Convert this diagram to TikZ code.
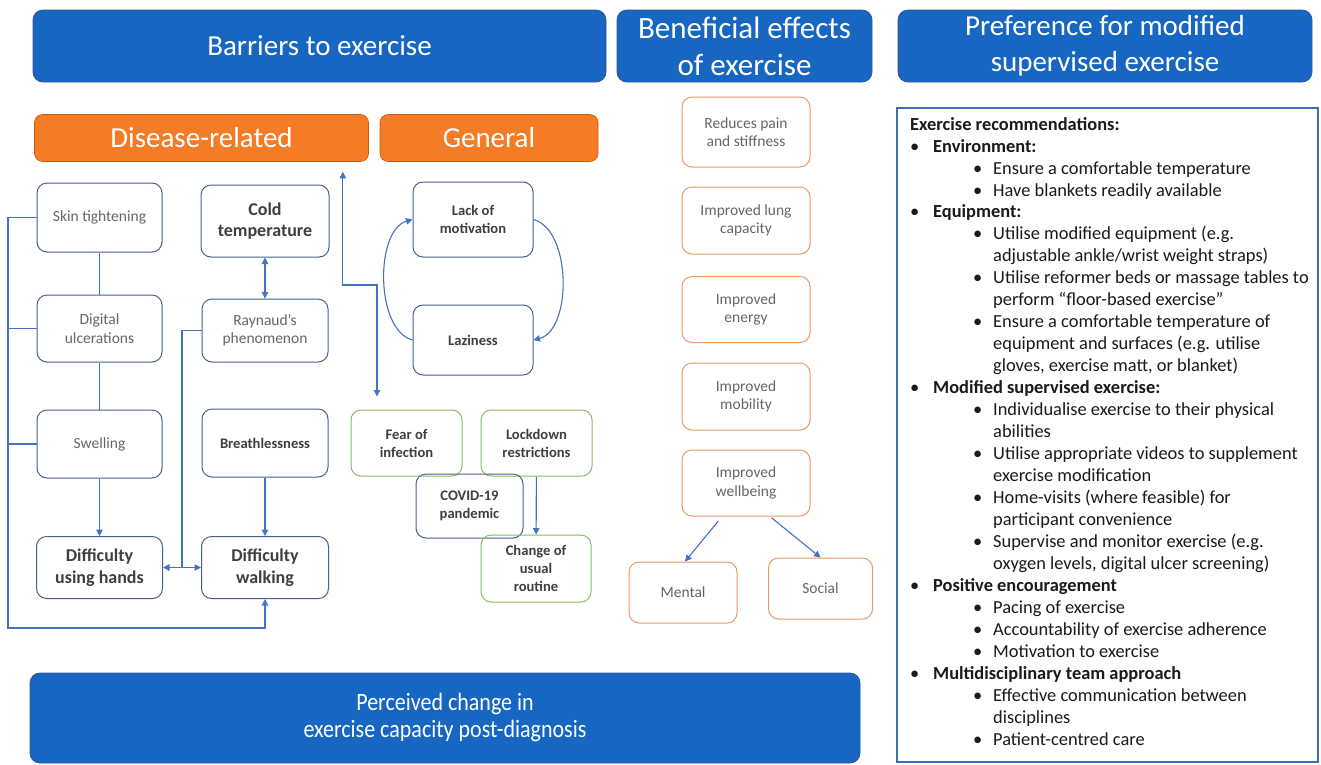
\documentclass[tikz,border=0pt]{standalone}
\usepackage{fontspec}
\setmainfont{Carlito}
\newfontfamily\narrowfont[FakeStretch=0.88]{Carlito}
\usetikzlibrary{arrows.meta,calc}
\definecolor{bannerblue}{HTML}{1766C2}
\definecolor{bannerline}{HTML}{2F5597}
\definecolor{subor}{HTML}{F47C26}
\definecolor{suborline}{HTML}{C55A11}
\definecolor{boxline}{HTML}{46638C}
\definecolor{linkcol}{HTML}{4472C4}
\definecolor{greenline}{HTML}{86BC65}
\definecolor{orline}{HTML}{E99A62}
\definecolor{darktext}{HTML}{3F3F3F}
\definecolor{lighttext}{HTML}{666666}
\definecolor{listtext}{HTML}{1A1A1A}
\definecolor{panelline}{HTML}{3A6FB8}
\newcommand{\lvA}[1]{\makebox[23pt][l]{\textbullet}\textbf{#1}}
\newcommand{\lvB}[1]{\hspace*{63pt}\makebox[20pt][l]{\textbullet}#1}
\newcommand{\lvC}[1]{\hspace*{83pt}#1}
\begin{document}
\begin{tikzpicture}[x=1pt,y=-1pt,
  banner/.style={draw=bannerline, fill=bannerblue, rounded corners=10pt, text=white, align=center, inner sep=0pt, line width=0.8pt},
  subhead/.style={draw=suborline, fill=subor, rounded corners=8pt, text=white, inner sep=0pt, line width=0.6pt, font=\fontsize{29}{34}\selectfont},
  nbox/.style={draw=boxline, rounded corners=10pt, line width=1pt, align=center, inner sep=0pt},
  light/.style={nbox, text=lighttext, font=\fontsize{15.5}{18.5}\selectfont},
  heavy/.style={nbox, text=darktext, font=\bfseries\fontsize{18}{21.7}\selectfont},
  mid/.style={nbox, text=darktext, font=\bfseries\fontsize{14.6}{18}\selectfont},
  gbox/.style={mid, draw=greenline},
  obox/.style={nbox, draw=orline, text=lighttext, font=\fontsize{15.5}{18.5}\selectfont},
  conn/.style={draw=linkcol, line width=1.1pt},
  arr/.style={conn, -{Triangle[length=6.5pt,width=6.5pt]}},
  dbl/.style={conn, {Triangle[length=6.5pt,width=6.5pt]}-{Triangle[length=6.5pt,width=6.5pt]}}
]
\useasboundingbox (0,0) rectangle (1321,764);
\fill[white] (0,0) rectangle (1321,764);

% banners
\node[banner, minimum width=573pt, minimum height=72pt, font=\fontsize{29}{34}\selectfont] (bar) at (319.5,46) {Barriers to exercise};
\node[banner, minimum width=255pt, minimum height=72pt, font=\fontsize{31}{37}\selectfont] (ben) at (744.5,46) {Beneficial effects\\of exercise};
\node[banner, minimum width=414pt, minimum height=72pt, font=\fontsize{29}{36}\selectfont] (pref) at (1105,46) {Preference for modified\\supervised exercise};
\node[banner, minimum width=830pt, minimum height=90pt, font=\narrowfont\fontsize{25}{30}\selectfont] (perc) at (445,718) {\raisebox{-5pt}{\begin{tabular}{@{}c@{}}Perceived change in\\[-3pt]exercise capacity post-diagnosis\end{tabular}}};

% sub headers
\node[subhead, minimum width=334pt, minimum height=47pt] (dis) at (201.5,138) {Disease-related};
\node[subhead, minimum width=218pt, minimum height=47pt] (gen) at (489,138) {General};

% disease-related nodes
\node[light, minimum width=125pt, minimum height=69pt] (skin) at (99.5,217.5) {Skin tightening};
\node[light, minimum width=125pt, minimum height=67pt] (digi) at (99.5,328.5) {Digital\\ulcerations};
\node[light, minimum width=125pt, minimum height=68pt] (swel) at (99.5,444) {Swelling};
\node[heavy, minimum width=126pt, minimum height=62pt] (hands) at (99.5,567.5) {Difficulty\\using hands};
\node[heavy, minimum width=128pt, minimum height=72pt] (cold) at (265,221) {Cold\\temperature};
\node[light, minimum width=126pt, minimum height=63pt] (rayn) at (265,330.5) {Raynaud's\\phenomenon};
\node[mid, minimum width=126pt, minimum height=68pt] (breath) at (265,443) {Breathlessness};
\node[heavy, minimum width=127pt, minimum height=62pt] (walk) at (265,567.5) {Difficulty\\walking};

% general nodes
\node[mid, minimum width=120pt, minimum height=75pt] (lack) at (473,219.5) {Lack of\\motivation};
\node[mid, minimum width=120pt, minimum height=70pt] (laz) at (473,340) {Laziness};
\node[gbox, minimum width=111pt, minimum height=66pt] (fear) at (406.5,443) {Fear of\\infection};
\node[gbox, minimum width=111pt, minimum height=66pt] (lock) at (536.5,443) {Lockdown\\restrictions};
\node[mid, minimum width=107pt, minimum height=64pt] (covid) at (469.5,506) {COVID-19\\pandemic};
\node[gbox, minimum width=110pt, minimum height=67pt] (chg) at (536,568.5) {Change of\\usual\\routine};

% beneficial effects
\node[obox, minimum width=128pt, minimum height=70pt] (pain) at (746,132) {Reduces pain\\and stiffness};
\node[obox, minimum width=128pt, minimum height=67pt] (lung) at (746,220.5) {Improved lung\\capacity};
\node[obox, minimum width=128pt, minimum height=66pt] (ener) at (746,309.5) {Improved\\energy};
\node[obox, minimum width=128pt, minimum height=67pt] (mobi) at (746,396.5) {Improved\\mobility};
\node[obox, minimum width=128pt, minimum height=66pt] (well) at (746,483) {Improved\\wellbeing};
\node[obox, minimum width=108pt, minimum height=61pt] (ment) at (683,592.5) {Mental};
\node[obox, minimum width=104pt, minimum height=61pt] (soc) at (820.5,588.5) {Social};

% recommendations panel
\node[draw=panelline, line width=1.6pt, minimum width=421pt, minimum height=654pt, inner sep=0pt] (panel) at (1107.5,435) {};
\node[anchor=north west, align=left, inner sep=0pt, text=listtext, font=\fontsize{18.4}{21.96}\selectfont] (list) at (910,117) {%
\textbf{Exercise recommendations:}\\
\lvA{Environment:}\\
\lvB{Ensure a comfortable temperature}\\
\lvB{Have blankets readily available}\\
\lvA{Equipment:}\\
\lvB{Utilise modified equipment (e.g.}\\
\lvC{adjustable ankle/wrist weight straps)}\\
\lvB{Utilise reformer beds or massage tables to}\\
\lvC{perform “floor-based exercise”}\\
\lvB{Ensure a comfortable temperature of}\\
\lvC{equipment and surfaces (e.g. utilise}\\
\lvC{gloves, exercise matt, or blanket)}\\
\lvA{Modified supervised exercise:}\\
\lvB{Individualise exercise to their physical}\\
\lvC{abilities}\\
\lvB{Utilise appropriate videos to supplement}\\
\lvC{exercise modification}\\
\lvB{Home-visits (where feasible) for}\\
\lvC{participant convenience}\\
\lvB{Supervise and monitor exercise (e.g.}\\
\lvC{oxygen levels, digital ulcer screening)}\\
\lvA{Positive encouragement}\\
\lvB{Pacing of exercise}\\
\lvB{Accountability of exercise adherence}\\
\lvB{Motivation to exercise}\\
\lvA{Multidisciplinary team approach}\\
\lvB{Effective communication between}\\
\lvC{disciplines}\\
\lvB{Patient-centred care}};

% connectors: disease-related
\coordinate (bus) at (8,628);
\coordinate (rj) at (182,567.5);
\coordinate (kk) at (359,285);
\draw[conn] (skin) -- (digi);
\draw[conn] (digi) -- (swel);
\draw[arr] (swel) -- (hands);
\draw[arr] (skin.west) -| (bus) -| (walk.south);
\draw[conn] (digi.west) -- (digi.west -| bus);
\draw[conn] (swel.west) -- (swel.west -| bus);
\draw[dbl] (cold) -- (rayn);
\draw[arr] (breath) -- (walk);
\draw[conn] (rayn.west) -| (rj);
\draw[arr] (rj) -- (hands.east);
\draw[arr] (rj) -- (walk.west);

% connectors: general
\draw[dbl, shorten <=10pt, shorten >=13pt] ([xshift=-26pt]dis.south east) |- (kk) -| ([xshift=-29.5pt]fear.north);
\draw[arr] (laz.west) .. controls (375,330) and (375,230) .. (lack.west);
\draw[arr] (lack.east) .. controls (572,230) and (572,330) .. (laz.east);
\draw[arr] (lock) -- (chg);

% connectors: beneficial
\draw[arr, shorten <=6pt] ([xshift=-24pt]well.south) -- ([xshift=2pt]ment.north);
\draw[arr, shorten <=2pt] ([xshift=24pt]well.south) -- (soc.north);
\end{tikzpicture}
\end{document}
